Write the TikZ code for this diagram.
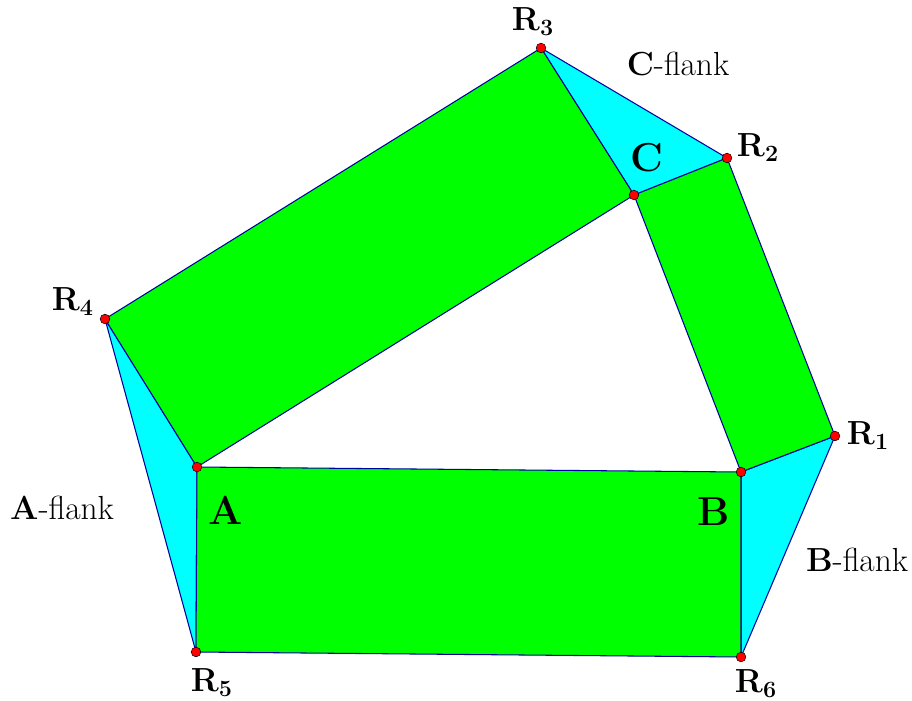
\RequirePackage{fix-cm}
\documentclass[tikz,border=0pt]{standalone}
\definecolor{sqgreen}{RGB}{0,255,0}
\definecolor{flcyan}{RGB}{0,255,255}
\definecolor{edge}{RGB}{0,0,160}
\begin{document}
\begin{tikzpicture}[x=0.02cm,y=-0.02cm,
  sq/.style={fill=sqgreen, draw=edge, line width=0.6pt, line join=round},
  flank/.style={fill=flcyan, draw=edge, line width=0.6pt, line join=round},
  pt/.style={circle, fill=red, draw=black, line width=0.3pt, inner sep=0pt, minimum size=5.5pt},
  lab/.style={font=\fontsize{19}{22}\selectfont, inner sep=0pt},
  vlab/.style={font=\fontsize{23}{27}\selectfont\bfseries, inner sep=0pt}]
\useasboundingbox (0,0) rectangle (912,700);
\coordinate (A) at (197,467);
\coordinate (B) at (741,472);
\coordinate (C) at (634,195);
\coordinate (R1) at (835,436);
\coordinate (R2) at (727,158);
\coordinate (R3) at (541,48);
\coordinate (R4) at (105,319);
\coordinate (R5) at (196,652);
\coordinate (R6) at (741,657);
% flanks
\filldraw[flank] (A) -- (R4) -- (R5) -- cycle;
\filldraw[flank] (B) -- (R6) -- (R1) -- cycle;
\filldraw[flank] (C) -- (R2) -- (R3) -- cycle;
% squares
\filldraw[sq] (A) -- (B) -- (R6) -- (R5) -- cycle;
\filldraw[sq] (B) -- (C) -- (R2) -- (R1) -- cycle;
\filldraw[sq] (C) -- (A) -- (R4) -- (R3) -- cycle;
% points
\foreach \p in {A,B,C,R1,R2,R3,R4,R5,R6} \node[pt] (p\p) at (\p) {};
% labels
\node[lab] (lR1) at (868,436) {$\mathbf{R_1}$};
\node[lab] (lR2) at (758,148) {$\mathbf{R_2}$};
\node[lab] (lR3) at (533,22) {$\mathbf{R_3}$};
\node[lab] (lR4) at (73,302) {$\mathbf{R_4}$};
\node[lab] (lR5) at (212,683) {$\mathbf{R_5}$};
\node[lab] (lR6) at (756,684) {$\mathbf{R_6}$};
\node[vlab] (lA) at (226,510) {A};
\node[vlab] (lB) at (714,512) {B};
\node[vlab] (lC) at (647,158) {C};
\node[lab] (fA) at (62,508) {\textbf{A}-flank};
\node[lab] (fB) at (857,560) {\textbf{B}-flank};
\node[lab] (fC) at (678,64) {\textbf{C}-flank};
\end{tikzpicture}
\end{document}
